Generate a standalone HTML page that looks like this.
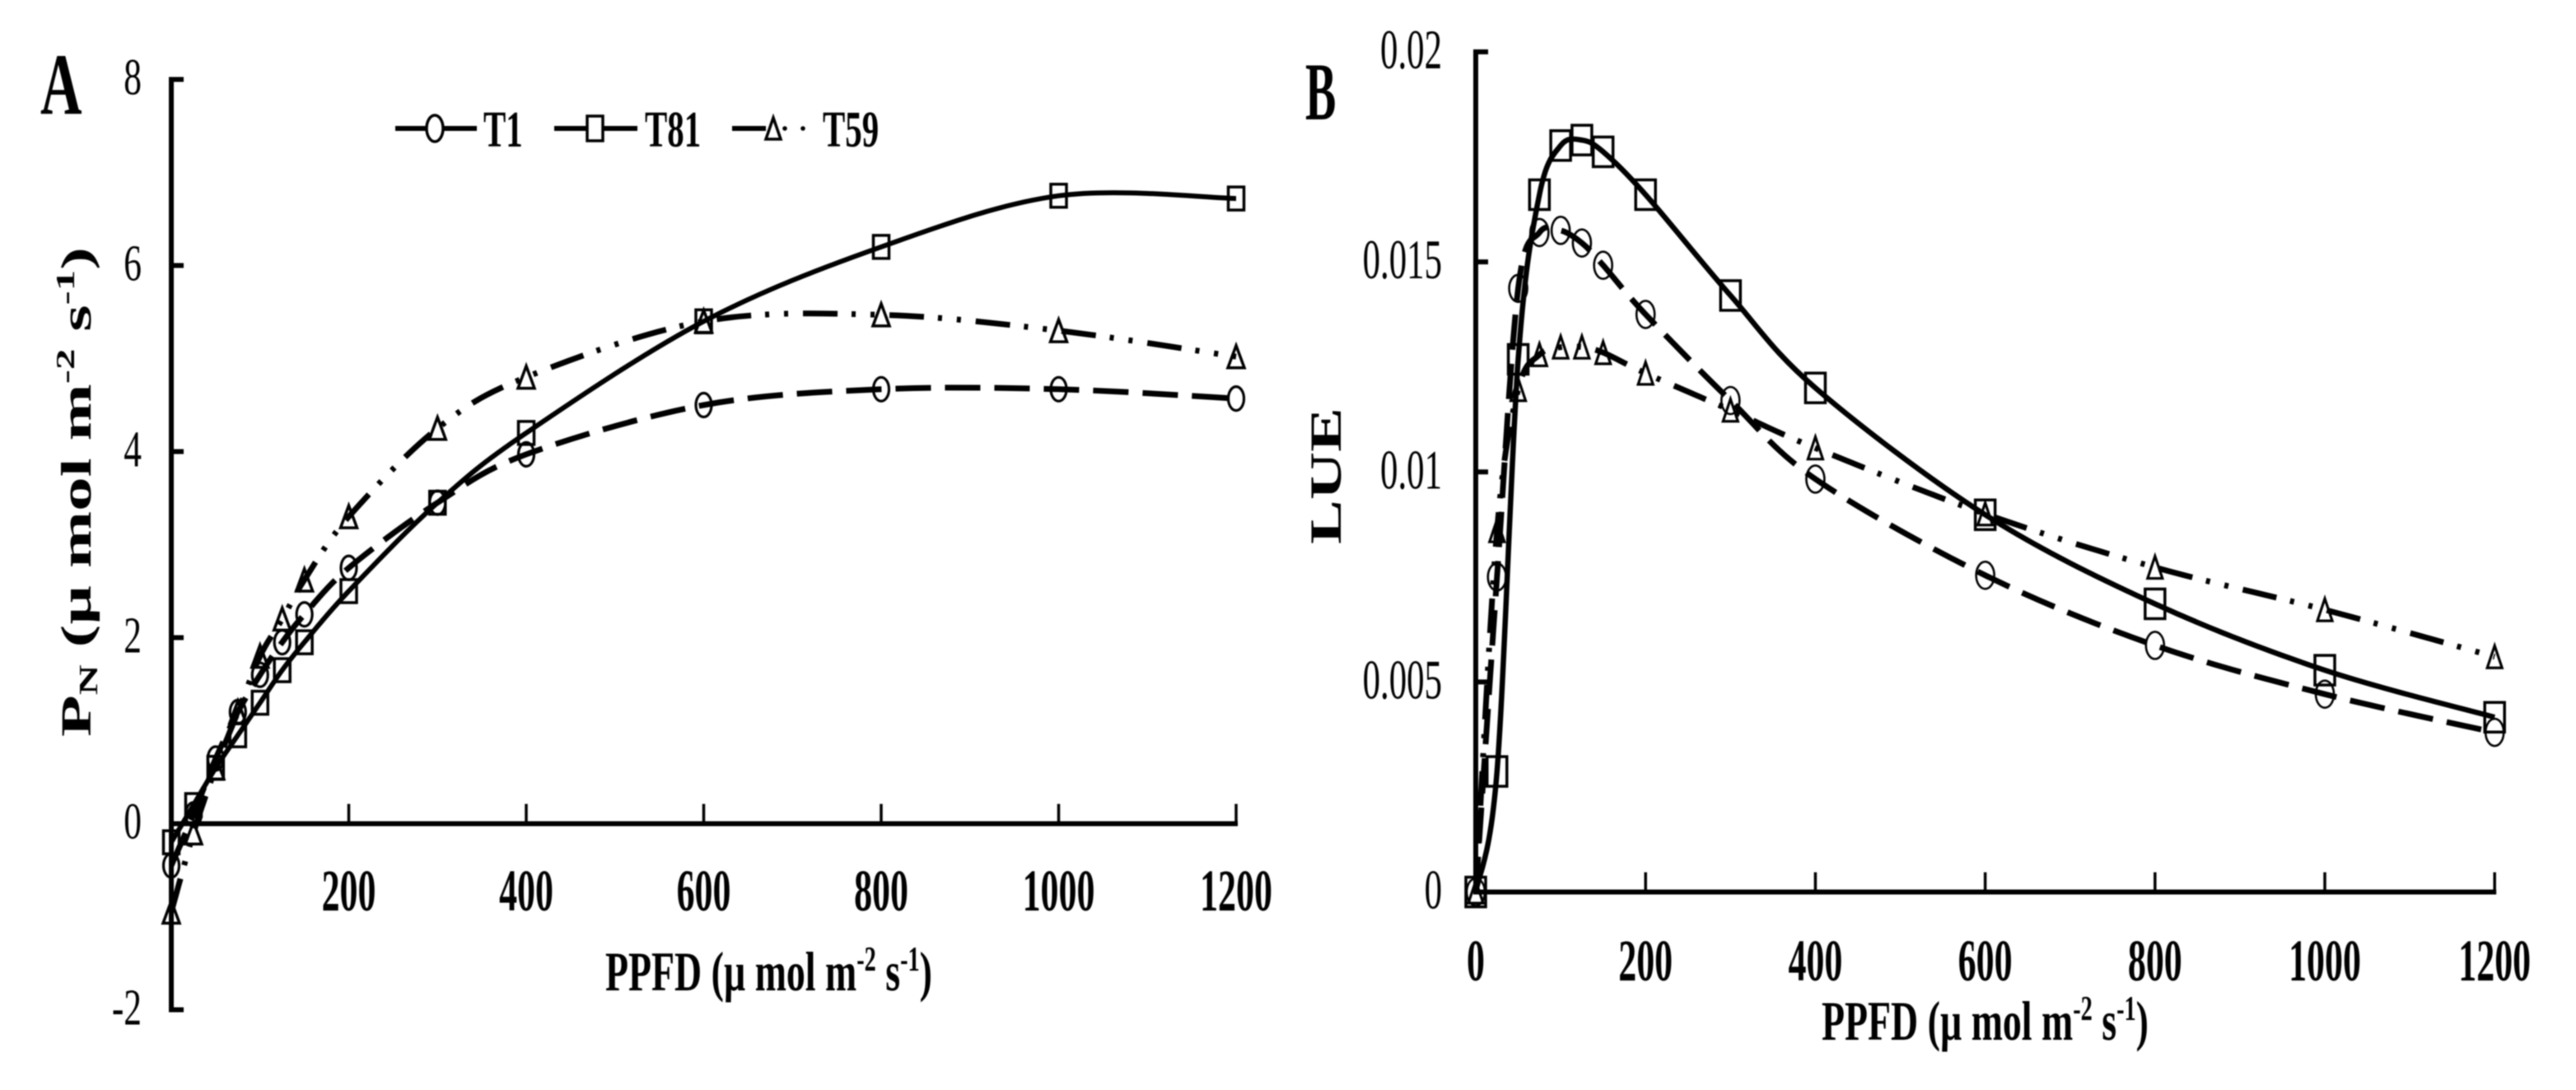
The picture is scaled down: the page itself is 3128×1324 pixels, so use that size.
<!DOCTYPE html>
<html lang="en">
<head>
<meta charset="utf-8">
<title>PN and LUE light response curves</title>
<style>
html,body{margin:0;padding:0;background:#fff;}
body{width:3128px;height:1324px;overflow:hidden;}
svg{display:block;filter:blur(0.9px);}
text{font-family:"Liberation Serif","Times New Roman",serif;fill:#000;}
</style>
</head>
<body>
<svg id="figure" xmlns="http://www.w3.org/2000/svg" width="3128" height="1324" viewBox="0 0 3128 1324">
  <rect x="0" y="0" width="3128" height="1324" fill="#fff"/>
  <g id="panelA"></g>
  <g id="panelB"></g>

  <text id="letterA" font-weight="700" font-size="106" transform="translate(49,138) scale(0.66,1)">A</text>
  <text id="letterB" font-weight="700" font-size="100" transform="translate(1585,145) scale(0.56,1)">B</text>

  <text id="titleYA" font-weight="700" font-size="52">P<tspan font-size="32" dy="8">N</tspan><tspan dy="-8"> (µ mol m</tspan><tspan font-size="32" dy="-20">-2</tspan><tspan dy="20"> s</tspan><tspan font-size="32" dy="-20">-1</tspan><tspan dy="20">)</tspan></text>
  <text id="titleXA" font-weight="700" font-size="68">PPFD (µ mol m<tspan font-size="42" dy="-24">-2</tspan><tspan dy="24"> s</tspan><tspan font-size="42" dy="-24">-1</tspan><tspan dy="24">)</tspan></text>
  <text id="titleYB" font-weight="700" font-size="54">LUE</text>
  <text id="titleXB" font-weight="700" font-size="68">PPFD (µ mol m<tspan font-size="42" dy="-24">-2</tspan><tspan dy="24"> s</tspan><tspan font-size="42" dy="-24">-1</tspan><tspan dy="24">)</tspan></text>

  <g>
    <g>
      <line x1="480" y1="156" x2="579" y2="156" stroke="#000" stroke-width="6"/>
      <ellipse cx="528" cy="156" rx="10" ry="16" fill="#fff" stroke="#000" stroke-width="3.5"/>
      <text font-weight="700" font-size="62" transform="translate(587,178) scale(0.66,1)">T1</text>
    </g>
    <g>
      <line x1="673" y1="156" x2="774" y2="156" stroke="#000" stroke-width="6"/>
      <rect x="713" y="141" width="19" height="30" fill="#fff" stroke="#000" stroke-width="3.5"/>
      <text font-weight="700" font-size="62" transform="translate(783,178) scale(0.66,1)">T81</text>
    </g>
    <g>
      <line x1="889" y1="156" x2="930" y2="156" stroke="#000" stroke-width="6"/>
      <path d="M939,143 L948,169 L930,169 Z" fill="#fff" stroke="#000" stroke-width="3.5"/>
      <circle cx="953" cy="156" r="2.8" fill="#000"/>
      <circle cx="975" cy="156" r="2.8" fill="#000"/>
      <text font-weight="700" font-size="62" transform="translate(999,178) scale(0.66,1)">T59</text>
    </g>
  </g>
</svg>
<script>
const ppfd = [0, 25, 50, 75, 100, 125, 150, 200, 300, 400, 600, 800, 1000, 1200];

const pnT1  = [-0.45, 0.10, 0.70, 1.20, 1.60, 1.95, 2.25, 2.75, 3.45, 3.97, 4.50, 4.67, 4.67, 4.57];
const pnT81 = [-0.20, 0.20, 0.60, 0.95, 1.30, 1.65, 1.95, 2.50, 3.45, 4.20, 5.40, 6.20, 6.75, 6.72];
const pnT59 = [-0.95, -0.10, 0.60, 1.20, 1.80, 2.20, 2.62, 3.30, 4.25, 4.80, 5.40, 5.47, 5.30, 5.02];

const lueT1  = [0, 0.0075, 0.01437, 0.0157, 0.01575, 0.01545, 0.01492, 0.01375, 0.0117, 0.00983, 0.00754, 0.00587, 0.00471, 0.0038];
const lueT81 = [0, 0.00287, 0.01268, 0.0166, 0.01777, 0.0179, 0.01762, 0.0166, 0.0142, 0.012, 0.00898, 0.00686, 0.00528, 0.00416];
const lueT59 = [0, 0.0086, 0.01196, 0.01279, 0.01297, 0.01297, 0.01284, 0.01235, 0.01147, 0.01057, 0.009, 0.00773, 0.00672, 0.0056];

const xTickValues = [200, 400, 600, 800, 1000, 1200];
const xTickValuesB = [0, 200, 400, 600, 800, 1000, 1200];
const yTickValuesA = [-2, 0, 2, 4, 6, 8];
const yTickLabelsA = ['-2', '0', '2', '4', '6', '8'];
const yTickValuesB = [0, 0.005, 0.01, 0.015, 0.02];
const yTickLabelsB = ['0', '0.005', '0.01', '0.015', '0.02'];

const NS = 'http://www.w3.org/2000/svg';

function mk(parent, tag, name, attrs) {
  const el = document.createElementNS(NS, tag);
  
  
  for (const k in attrs) el.setAttribute(k, attrs[k]);
  parent.appendChild(el);
  return el;
}

function label(parent, name, str, x, y, size, sx, weight, anchor) {
  const t = mk(parent, 'text', name, {
    'font-size': size,
    'font-weight': weight,
    'text-anchor': anchor,
    transform: 'translate(' + x + ',' + y + ') scale(' + sx + ',1)'
  });
  t.textContent = str;
  return t;
}

function smoothPath(xs, ys, sx, sy) {
  const p = xs.map(function (v, i) { return [sx(v), sy(ys[i])]; });
  let d = 'M' + p[0][0].toFixed(1) + ',' + p[0][1].toFixed(1);
  for (let i = 0; i < p.length - 1; i++) {
    const a = p[Math.max(i - 1, 0)], b = p[i], c = p[i + 1], e = p[Math.min(i + 2, p.length - 1)];
    const c1x = b[0] + (c[0] - a[0]) / 6, c1y = b[1] + (c[1] - a[1]) / 6;
    const c2x = c[0] - (e[0] - b[0]) / 6, c2y = c[1] - (e[1] - b[1]) / 6;
    d += ' C' + c1x.toFixed(1) + ',' + c1y.toFixed(1) + ' ' + c2x.toFixed(1) + ',' + c2y.toFixed(1) + ' ' + c[0].toFixed(1) + ',' + c[1].toFixed(1);
  }
  return d;
}

function marker(parent, name, shape, cx, cy, size) {
  if (shape === 'circle') {
    mk(parent, 'ellipse', name, { cx: cx, cy: cy, rx: size.cw / 2, ry: size.ch / 2, fill: 'none', stroke: '#000', 'stroke-width': size.cs });
  } else if (shape === 'square') {
    mk(parent, 'rect', name, { x: cx - size.sw / 2, y: cy - size.sh / 2, width: size.sw, height: size.sh, fill: 'none', stroke: '#000', 'stroke-width': size.ss });
  } else {
    const w = size.tw / 2, h = size.th / 2;
    mk(parent, 'path', name, { d: 'M' + cx + ',' + (cy - h) + ' L' + (cx + w) + ',' + (cy + h) + ' L' + (cx - w) + ',' + (cy + h) + ' Z', fill: 'none', stroke: '#000', 'stroke-width': size.ts });
  }
}

function drawSeries(parent, id, values, dash, shape, sx, sy, size, width) {
  const g = mk(parent, 'g', 'series-' + id, {});
  const attrs = { d: smoothPath(ppfd, values, sx, sy), fill: 'none', stroke: '#000', 'stroke-width': width };
  if (dash) attrs['stroke-dasharray'] = dash;
  mk(g, 'path', 'line-' + id, attrs);
  ppfd.forEach(function (v, i) {
    marker(g, 'point-' + id + '-' + v, shape, sx(v), sy(values[i]), size);
  });
}

function xA(v) { return 208 + v * 1.0775; }
function yA(v) { return 1000.5 - v * 113; }
function xB(v) { return 1792 + v * 1.031; }
function yB(v) { return 1083.5 - v * 51025; }

const dashT1 = '43 17';
const dashT59 = '42 17 5 18 5 18';

/* Panel A */
const a = document.getElementById('panelA');
mk(a, 'line', 'y-axis-a', { x1: xA(0), y1: yA(8) - 3, x2: xA(0), y2: yA(-2) + 3, stroke: '#000', 'stroke-width': 6 });
mk(a, 'line', 'x-axis-a', { x1: xA(0), y1: yA(0), x2: xA(1200) + 2, y2: yA(0), stroke: '#000', 'stroke-width': 6 });
yTickValuesA.forEach(function (v, i) {
  if (v !== 0) mk(a, 'line', 'y-tick-a-' + yTickLabelsA[i], { x1: xA(0), y1: yA(v), x2: xA(0) + 15, y2: yA(v), stroke: '#000', 'stroke-width': 6 });
  label(a, 'y-tick-label-a-' + yTickLabelsA[i], yTickLabelsA[i], 172, yA(v) + 18, 62, 0.7, 400, 'end');
});
xTickValues.forEach(function (v) {
  mk(a, 'line', 'x-tick-a-' + v, { x1: xA(v), y1: yA(0), x2: xA(v), y2: yA(0) - 24, stroke: '#000', 'stroke-width': 3.5 });
  label(a, 'x-tick-label-a-' + v, String(v), xA(v), 1106, 72, 0.61, 700, 'middle');
});
const sizeA = { cw: 19, ch: 29, cs: 3.2, sw: 19, sh: 28, ss: 3.5, tw: 20, th: 27, ts: 3.5 };
drawSeries(a, 'pn-t1', pnT1, dashT1, 'circle', xA, yA, sizeA, 7);
drawSeries(a, 'pn-t81', pnT81, null, 'square', xA, yA, sizeA, 6);
drawSeries(a, 'pn-t59', pnT59, dashT59, 'triangle', xA, yA, sizeA, 7);

/* Panel B */
const b = document.getElementById('panelB');
mk(b, 'line', 'y-axis-b', { x1: xB(0), y1: yB(0.02) - 3, x2: xB(0), y2: yB(0) + 3, stroke: '#000', 'stroke-width': 6 });
mk(b, 'line', 'x-axis-b', { x1: xB(0), y1: yB(0), x2: xB(1200) + 2, y2: yB(0), stroke: '#000', 'stroke-width': 6 });
yTickValuesB.forEach(function (v, i) {
  if (v !== 0) mk(b, 'line', 'y-tick-b-' + yTickLabelsB[i], { x1: xB(0), y1: yB(v), x2: xB(0) + 15, y2: yB(v), stroke: '#000', 'stroke-width': 6 });
  label(b, 'y-tick-label-b-' + yTickLabelsB[i], yTickLabelsB[i], 1751, yB(v) + 20, 68, 0.63, 400, 'end');
});
xTickValuesB.forEach(function (v) {
  if (v !== 0) mk(b, 'line', 'x-tick-b-' + v, { x1: xB(v), y1: yB(0), x2: xB(v), y2: yB(0) - 24, stroke: '#000', 'stroke-width': 3.5 });
  label(b, 'x-tick-label-b-' + v, String(v), xB(v), 1191, 72, 0.61, 700, 'middle');
});
const sizeB = { cw: 22, ch: 33, cs: 2.6, sw: 24, sh: 36, ss: 3.5, tw: 18, th: 27, ts: 3.2 };
drawSeries(b, 'lue-t1', lueT1, dashT1, 'circle', xB, yB, sizeB, 7);
drawSeries(b, 'lue-t81', lueT81, null, 'square', xB, yB, sizeB, 6.5);
drawSeries(b, 'lue-t59', lueT59, dashT59, 'triangle', xB, yB, sizeB, 7);

/* Fit the axis titles to their measured extents */
function fitH(id, x0, x1, base) {
  const el = document.getElementById(id);
  const w = el.getComputedTextLength();
  el.setAttribute('transform', 'translate(' + x0 + ',' + base + ') scale(' + ((x1 - x0) / w).toFixed(4) + ',1)');
}
function fitV(id, yBottom, yTop, base) {
  const el = document.getElementById(id);
  const w = el.getComputedTextLength();
  el.setAttribute('transform', 'translate(' + base + ',' + yBottom + ') rotate(-90) scale(' + ((yBottom - yTop) / w).toFixed(4) + ',1)');
}
fitH('titleXA', 735, 1132, 1203);
fitH('titleXB', 2212, 2609, 1263);
fitV('titleYA', 895, 300, 110);
fitV('titleYB', 661, 495, 1628);
</script>
</body>
</html>
